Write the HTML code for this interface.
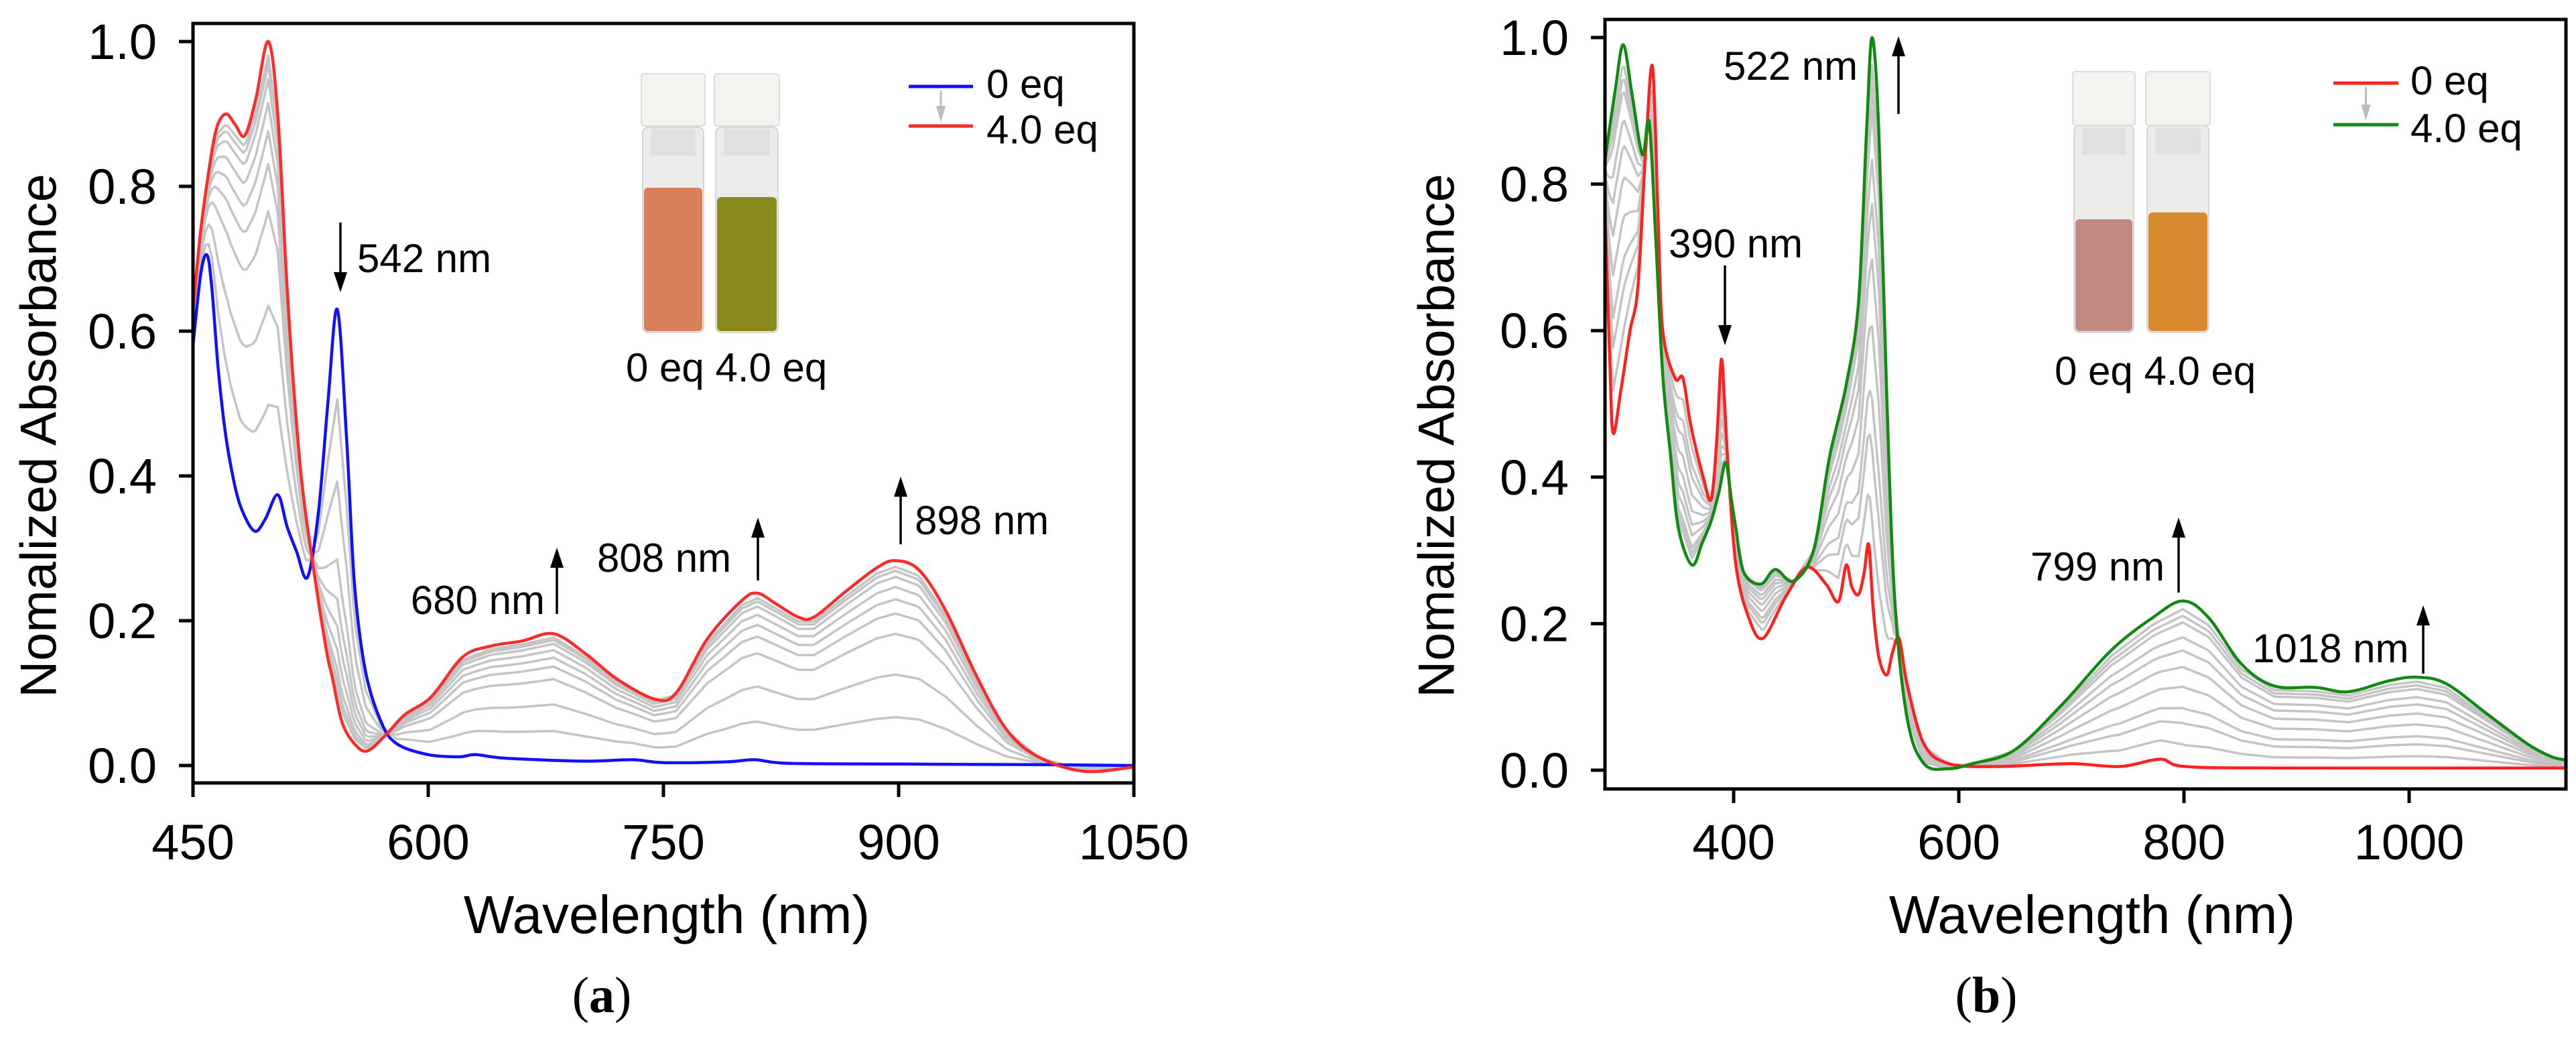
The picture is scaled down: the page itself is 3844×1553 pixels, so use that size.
<!DOCTYPE html>
<html><head><meta charset="utf-8"><style>
html,body{margin:0;padding:0;background:#fff}
svg{display:block}
text{font-family:"Liberation Sans",Arial,sans-serif;fill:#000}
</style></head><body>
<svg id="fig" width="3844" height="1553" viewBox="0 0 3844 1553" xmlns="http://www.w3.org/2000/svg">
<defs>
<clipPath id="clipA"><rect x="288" y="35" width="1404" height="1133"/></clipPath>
<clipPath id="clipB"><rect x="2395" y="29" width="1434" height="1148"/></clipPath>
</defs>
<g id="panelA"></g>
<g id="panelB"></g>
</svg>
<script>
// ---------- Panel (a) data ----------
const aBlueNm  = [450,455,459,462,466,470,474,480,489,496,504,510,516,523,530,536,542,548,553,560,570,580,600,620,630,650,700,730,750,790,808,830,900,1000,1050];
const aBlueVal = [0.58,0.68,0.705,0.66,0.55,0.47,0.415,0.36,0.324,0.34,0.374,0.33,0.296,0.26,0.35,0.50,0.63,0.45,0.25,0.13,0.06,0.03,0.015,0.012,0.015,0.01,0.006,0.008,0.004,0.005,0.008,0.003,0.002,0.001,0.0];
const aRedNm   = [450,455,460,465,471,477,483,490,498,504,510,515,520,527,535,539,545,553,561,572,585,602,622,640,660,680,700,720,744,758,778,800,810,822,836,846,866,886,898,913,930,950,969,989,1018,1050];
const aRedVal  = [0.63,0.74,0.82,0.88,0.90,0.885,0.87,0.92,1.0,0.90,0.66,0.50,0.38,0.27,0.16,0.12,0.06,0.03,0.02,0.04,0.07,0.095,0.15,0.165,0.172,0.182,0.155,0.12,0.092,0.10,0.175,0.228,0.238,0.223,0.205,0.205,0.24,0.273,0.283,0.27,0.214,0.122,0.049,0.012,-0.008,-0.002];
const aGrayFractions = [0.23,0.44,0.64,0.74,0.81,0.87,0.92,0.95,0.97];
const aXTicks = [450,600,750,900,1050];
const aYTicks = [0,0.2,0.4,0.6,0.8,1.0];
const aYTickLabels = ["0.0","0.2","0.4","0.6","0.8","1.0"];

// ---------- Panel (b) data ----------
const bRedNm  = [285,290,293,300,308,315,322,328,333,337,348,355,362,373,380,385,389,392,395,402,413,426,446,465,482,493,500,505,511,516,520,524,529,536,541,547,554,569,591,634,699,743,779,801,888,1140];
const bRedVal = [0.80,0.56,0.46,0.52,0.60,0.66,0.85,0.96,0.75,0.60,0.535,0.535,0.47,0.40,0.37,0.45,0.56,0.50,0.417,0.28,0.21,0.18,0.236,0.277,0.254,0.23,0.28,0.25,0.24,0.27,0.308,0.22,0.154,0.13,0.16,0.18,0.118,0.036,0.009,0.005,0.009,0.005,0.015,0.005,0.003,0.003];
const bGreenNm  = [285,295,302,310,319,325,331,337,344,351,363,372,380,387,393,398,402,409,424,437,453,471,485,500,511,518,523,529,536,543,554,569,591,612,649,692,735,772,799,822,851,880,917,946,982,1007,1033,1069,1105,1127,1140];
const bGreenVal = [0.825,0.93,0.99,0.92,0.84,0.884,0.72,0.54,0.43,0.33,0.28,0.31,0.34,0.38,0.42,0.37,0.33,0.27,0.254,0.274,0.258,0.30,0.426,0.526,0.64,0.87,1.0,0.87,0.51,0.236,0.072,0.009,0.002,0.009,0.027,0.09,0.163,0.208,0.231,0.208,0.145,0.115,0.113,0.107,0.122,0.127,0.118,0.077,0.036,0.018,0.014];
const bGrayFractions = [0.13,0.26,0.35,0.48,0.60,0.70,0.78,0.87,0.91,0.95];
const bXTicks = [400,600,800,1000];
const bYTicks = [0,0.2,0.4,0.6,0.8,1.0];
const bYTickLabels = ["0.0","0.2","0.4","0.6","0.8","1.0"];

const NS="http://www.w3.org/2000/svg";
function mk(parent,tag,attrs,text){
  const e=document.createElementNS(NS,tag);
  for(const k in attrs) e.setAttribute(k,attrs[k]);
  if(text!==undefined) e.textContent=text;
  parent.appendChild(e); return e;
}
function interp(xs,ys,x){
  if(x<=xs[0]) return ys[0];
  for(let i=1;i<xs.length;i++){ if(x<=xs[i]){const t=(x-xs[i-1])/(xs[i]-xs[i-1]);return ys[i-1]+t*(ys[i]-ys[i-1]);} }
  return ys[ys.length-1];
}
function pathFrom(xs,ys,sx,sy){
  const P=xs.map((x,i)=>[sx(x),sy(ys[i])]);
  let d='M'+P[0][0].toFixed(1)+','+P[0][1].toFixed(1);
  for(let i=0;i<P.length-1;i++){
    const p0=P[Math.max(0,i-1)],p1=P[i],p2=P[i+1],p3=P[Math.min(P.length-1,i+2)];
    const c1x=p1[0]+(p2[0]-p0[0])/6,c1y=p1[1]+(p2[1]-p0[1])/6;
    const c2x=p2[0]-(p3[0]-p1[0])/6,c2y=p2[1]-(p3[1]-p1[1])/6;
    d+=`C${c1x.toFixed(1)},${c1y.toFixed(1)} ${c2x.toFixed(1)},${c2y.toFixed(1)} ${p2[0].toFixed(1)},${p2[1].toFixed(1)}`;
  }
  return d;
}
function pathLin(xs,ys,sx,sy){
  return xs.map((x,i)=>(i?'L':'M')+sx(x).toFixed(1)+','+sy(ys[i]).toFixed(1)).join(' ');
}
function arrow(g,x,y1,y2,name){
  const dir = y2<y1 ? -1 : 1;
  const line=mk(g,'line',{x1:x,y1:y1,x2:x,y2:y2-dir*26,stroke:'#000','stroke-width':3.5});
  
  
  const head=mk(g,'polygon',{points:`${x-10},${y2-dir*30} ${x+10},${y2-dir*30} ${x},${y2}`,fill:'#000'});
  
  
}

function drawPanel(cfg){
  const g=document.getElementById(cfg.id);
  const {sx,sy,box}=cfg;
  const cg=mk(g,'g',{'clip-path':`url(#${cfg.clip})`});
  
  
  const grid=[]; for(let w=cfg.xmin; w<=cfg.xmax; w+=2) grid.push(w);
  const sNm=[],sV=[],eV=[];
  grid.forEach(w=>{sNm.push(w);});
  // smooth start/end sampled on grid for mixing
  cfg.fractions.forEach((f,i)=>{
    const vals=grid.map(w=>{const a=interp(cfg.startNm,cfg.startVal,w),b=interp(cfg.endNm,cfg.endVal,w);return a+f*(b-a);});
    const p=mk(cg,'path',{d:pathLin(grid,vals,sx,sy),fill:'none',stroke:'#c4c4c4','stroke-width':3.5,'stroke-linejoin':'round'});
    
    
  });
  const s0=mk(cg,'path',{d:pathFrom(cfg.startNm,cfg.startVal,sx,sy),fill:'none',stroke:cfg.startColor,'stroke-width':4.5,'stroke-linejoin':'round'});
  
  
  const s1=mk(cg,'path',{d:pathFrom(cfg.endNm,cfg.endVal,sx,sy),fill:'none',stroke:cfg.endColor,'stroke-width':4.5,'stroke-linejoin':'round'});
  
  
  const fr=mk(g,'rect',{x:box[0],y:box[1],width:box[2]-box[0],height:box[3]-box[1],fill:'none',stroke:'#000','stroke-width':5});
  
  
  cfg.yTicks.forEach((v,i)=>{
    const y=sy(v);
    const t=mk(g,'line',{x1:box[0]-21,x2:box[0],y1:y,y2:y,stroke:'#000','stroke-width':5});
    
    
    const l=mk(g,'text',{x:box[0]-54,y:y+26,'text-anchor':'end','font-size':74},cfg.yLabels[i]);
    
    
  });
  cfg.xTicks.forEach(v=>{
    const x=sx(v);
    const t=mk(g,'line',{x1:x,x2:x,y1:box[3],y2:box[3]+21,stroke:'#000','stroke-width':5});
    
    
    const l=mk(g,'text',{x:x,y:1282,'text-anchor':'middle','font-size':74},String(v));
    
    
  });
  const yt=mk(g,'text',{x:0,y:0,transform:`translate(${cfg.yTitleX},${cfg.yTitleY}) rotate(-90)`,'text-anchor':'middle','font-size':76,'dominant-baseline':'central'},'Nomalized Absorbance');
  
  
  const xt=mk(g,'text',{x:cfg.xTitleX,y:1392,'text-anchor':'middle','font-size':80},'Wavelength (nm)');
  
  
  const pl=mk(g,'text',{x:cfg.panelX,y:1510,'text-anchor':'middle','font-size':76,style:'font-family:"Liberation Serif",serif'});
  
  
  mk(pl,'tspan',{},'(');
  mk(pl,'tspan',{'font-weight':'bold'},cfg.letter);
  mk(pl,'tspan',{},')');
  const lg=mk(g,'g',{});
  
  
  const L=cfg.legend;
  mk(lg,'line',{x1:L.x1,x2:L.x2,y1:L.y1,y2:L.y1,stroke:cfg.startColor,'stroke-width':5});
  mk(lg,'line',{x1:L.x1,x2:L.x2,y1:L.y2,y2:L.y2,stroke:cfg.endColor,'stroke-width':5});
  const mx=(L.x1+L.x2)/2;
  mk(lg,'line',{x1:mx,x2:mx,y1:L.y1+6,y2:L.y2-28,stroke:'#bbb','stroke-width':3});
  mk(lg,'polygon',{points:`${mx-7},${L.y2-30} ${mx+7},${L.y2-30} ${mx},${L.y2-6}`,fill:'#bbb'});
  const e0=mk(lg,'text',{x:L.tx,y:L.y1+17,'font-size':60},'0 eq');
  
  
  const e1=mk(lg,'text',{x:L.tx,y:L.y2+26,'font-size':60},'4.0 eq');
  
  
  const V=cfg.vials;
  V.forEach((v,i)=>{
    const vg=mk(g,'g',{});
    
    
    mk(vg,'rect',{x:v.x+4,y:V.top+80,width:v.w-8,height:V.bottom-V.top-80,rx:8,fill:'#eeeceb',stroke:'#d8d6d4','stroke-width':2});
    mk(vg,'rect',{x:v.x+6,y:v.liq,width:v.w-12,height:V.bottom-v.liq-2,rx:6,fill:v.color});
    mk(vg,'rect',{x:v.x+2,y:V.top,width:v.w-4,height:V.capH,rx:4,fill:'#f4f3f0',stroke:'#dedcd8','stroke-width':2});
    mk(vg,'rect',{x:v.x+16,y:V.top+V.capH+4,width:v.w-32,height:40,fill:'#e2e0de'});
  });
  const vl=mk(g,'text',{x:cfg.vialLabel.x,y:cfg.vialLabel.y,'font-size':60},'0 eq 4.0 eq');
  
  
  cfg.notes.forEach(n=>{
    const t=mk(g,'text',{x:n.tx,y:n.ty,'font-size':60,'text-anchor':n.anchor||'start'},n.label);
    
    
    arrow(g,n.ax,n.ay1,n.ay2,'arrow-'+n.label.replace(' ','-'));
  });
}

drawPanel({
  id:'panelA', clip:'clipA', letter:'a',
  sx:w=>288+(w-450)*351/150, sy:v=>1142-v*1080,
  box:[288,35,1692,1168], xmin:450, xmax:1050,
  startNm:aBlueNm,startVal:aBlueVal,startColor:'#1010ff',
  endNm:aRedNm,endVal:aRedVal,endColor:'#ff2a2a',
  fractions:aGrayFractions, xTicks:aXTicks, yTicks:aYTicks, yLabels:aYTickLabels,
  yTitleX:58,yTitleY:650,xTitleX:995,panelX:898,
  legend:{x1:1356,x2:1452,y1:129,y2:188,tx:1472},
  vials:Object.assign([{x:955,w:99,liq:280,color:'#d9805a'},{x:1064,w:101,liq:294,color:'#8a8a1c'}],{top:110,bottom:496,capH:78}),
  vialLabel:{x:934,y:569},
  notes:[
    {label:'542 nm',tx:533,ty:406,ax:508,ay1:332,ay2:436},
    {label:'680 nm',tx:813,ty:916,anchor:'end',ax:831,ay1:916,ay2:817},
    {label:'808 nm',tx:891,ty:853,ax:1131,ay1:866,ay2:772},
    {label:'898 nm',tx:1365,ty:797,ax:1344,ay1:812,ay2:711}
  ]
});
drawPanel({
  id:'panelB', clip:'clipB', letter:'b',
  sx:w=>2587+(w-400)*1.68, sy:v=>1149-v*1093,
  box:[2395,29,3829,1177], xmin:285, xmax:1140,
  startNm:bRedNm,startVal:bRedVal,startColor:'#ff2020',
  endNm:bGreenNm,endVal:bGreenVal,endColor:'#108a10',
  fractions:bGrayFractions, xTicks:bXTicks, yTicks:bYTicks, yLabels:bYTickLabels,
  yTitleX:2144,yTitleY:650,xTitleX:3122,panelX:2964,
  legend:{x1:3482,x2:3579,y1:124,y2:186,tx:3597},
  vials:Object.assign([{x:3091,w:97,liq:327,color:'#c08a82'},{x:3200,w:100,liq:317,color:'#d98a2e'}],{top:107,bottom:496,capH:80}),
  vialLabel:{x:3066,y:574},
  notes:[
    {label:'522 nm',tx:2572,ty:119,ax:2833,ay1:170,ay2:54},
    {label:'390 nm',tx:2490,ty:384,ax:2574,ay1:396,ay2:515},
    {label:'799 nm',tx:3030,ty:866,ax:3251,ay1:884,ay2:772},
    {label:'1018 nm',tx:3361,ty:988,ax:3616,ay1:1005,ay2:903}
  ]
});
</script>
</body></html>
